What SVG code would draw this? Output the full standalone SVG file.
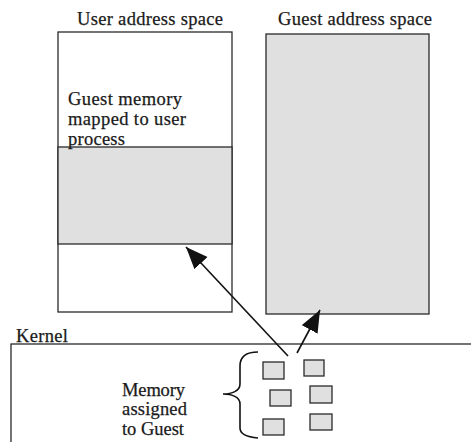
<svg xmlns="http://www.w3.org/2000/svg" width="471" height="442" viewBox="0 0 471 442">
  <style>
    .box { fill: #ffffff; stroke: #2a2a2a; stroke-width: 1.3; }
    .mem { fill: #e0e0e0; stroke: #2a2a2a; stroke-width: 1.3; }
    .lbl { font-family: "Liberation Serif", "Times New Roman", serif; font-size: 18.5px; fill: #1a1a1a; stroke: #1a1a1a; stroke-width: 0.25; }
    .conn { fill: none; stroke: #111; stroke-width: 1.6; }
  </style>
  <defs>
    <marker id="head" markerUnits="userSpaceOnUse" markerWidth="24" markerHeight="20" refX="22" refY="9" orient="auto">
      <path d="M0,0 L22,9 L0,18 Z" fill="#111"/>
    </marker>
  </defs>
  <rect width="471" height="442" fill="#ffffff"/>

  <!-- user process address space -->
  <g id="user-space">
    <text class="lbl" x="77" y="25" textLength="146" lengthAdjust="spacing">User address space</text>
    <rect class="box" x="58" y="32" width="174" height="280"/>
    <rect class="mem" x="58" y="147" width="174" height="97"/>
    <text class="lbl" x="68" y="105" textLength="114" lengthAdjust="spacing">Guest memory</text>
    <text class="lbl" x="68" y="125" textLength="118" lengthAdjust="spacing">mapped to user</text>
    <text class="lbl" x="68" y="145" textLength="57" lengthAdjust="spacing">process</text>
  </g>

  <!-- guest address space -->
  <g id="guest-space">
    <text class="lbl" x="278" y="25" textLength="154" lengthAdjust="spacing">Guest address space</text>
    <rect class="mem" x="266" y="34" width="163" height="280"/>
  </g>

  <!-- kernel -->
  <g id="kernel">
    <text class="lbl" x="16" y="342" textLength="52" lengthAdjust="spacing">Kernel</text>
    <rect class="box" x="11" y="344" width="470" height="110"/>
  </g>

  <!-- pages assigned to the guest -->
  <g id="guest-pages">
    <rect class="mem" x="263" y="362" width="21" height="17"/>
    <rect class="mem" x="304" y="360" width="20" height="16"/>
    <rect class="mem" x="270" y="390" width="21" height="16"/>
    <rect class="mem" x="310" y="386" width="22" height="17"/>
    <rect class="mem" x="263" y="419" width="21" height="16"/>
    <rect class="mem" x="310" y="414" width="22" height="16"/>
    <path class="conn" stroke-width="1.3" d="M258,352 C246,352 240,356 240,366 L240,384 C240,391 232,394 223,394 C232,394 240,397 240,404 L240,428 C240,434 246,437 258,438"/>
    <text class="lbl" x="122" y="396" textLength="63" lengthAdjust="spacing">Memory</text>
    <text class="lbl" x="122" y="415" textLength="65" lengthAdjust="spacing">assigned</text>
    <text class="lbl" x="122" y="435" textLength="62" lengthAdjust="spacing">to Guest</text>
  </g>

  <!-- mappings -->
  <g id="connectors">
    <line class="conn" x1="288" y1="356" x2="186" y2="247" marker-end="url(#head)"/>
    <line class="conn" x1="297" y1="353" x2="320" y2="310" marker-end="url(#head)"/>
  </g>
</svg>
